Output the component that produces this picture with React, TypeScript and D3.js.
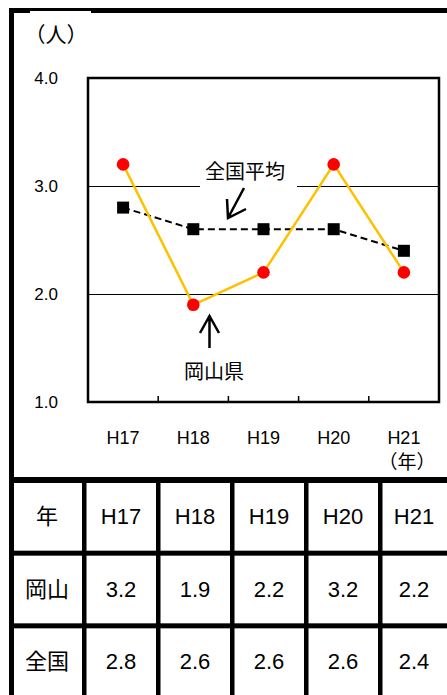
import React from 'react'
import * as d3 from 'd3'

const years = ['H17', 'H18', 'H19', 'H20', 'H21']
const okayama = [3.2, 1.9, 2.2, 3.2, 2.2]
const national = [2.8, 2.6, 2.6, 2.6, 2.4]
const yTicks = [1.0, 2.0, 3.0, 4.0]
const gridValues = [2.0, 3.0]
const rowLabels = ['年', '岡山', '全国']
const unitLabel = '（人）'
const yearUnit = '（年）'
const nationalLabel = '全国平均'
const okayamaLabel = '岡山県'

const W = 447
const H = 695
const FONT = "'Liberation Sans', 'Noto Sans CJK JP', sans-serif"

const App = () => {
    // plot area
    const x = d3.scaleBand<string>().domain(years).range([88, 439])
    const y = d3.scaleLinear().domain([1, 4]).range([402, 78])
    const cx = (d: string) => (x(d) ?? 0) + x.bandwidth() / 2

    const nationalLine = d3.line<number>()
        .x((v, i) => cx(years[i]))
        .y(v => y(v))
    const okayamaLine = d3.line<number>()
        .x((v, i) => cx(years[i]))
        .y(v => y(v))

    // table under the chart
    const cols = d3.scaleBand<string>().domain(['head', ...years]).range([10, 454])
    const rows = d3.scaleBand<string>().domain(rowLabels).range([480, 698])
    const rowValues = [years, okayama.map(v => v.toFixed(1)), national.map(v => v.toFixed(1))]

    return (
        <svg width={W} height={H} style={{ position: 'absolute', left: 0, top: 0 }} fontFamily={FONT}>
            <rect width={W} height={H} fill='white' />

            {/* outer frame */}
            <rect x={9} y={8} width={W - 9} height={5} fill='black' />
            <rect x={9} y={8} width={5} height={H - 8} fill='black' />
            <rect x={30} y={11} width={61} height={3} fill='white' />

            <text x={56} y={34} fontSize={21} textAnchor='middle' dominantBaseline='central'>{unitLabel}</text>

            {/* gridlines */}
            {gridValues.map(v => (
                <line key={v} x1={88} x2={439} y1={y(v) + 0.5} y2={y(v) + 0.5} stroke='black' strokeWidth={1} />
            ))}

            {/* y ticks */}
            {yTicks.map(v => (
                <text key={v} x={58} y={y(v)} fontSize={17} textAnchor='end' dominantBaseline='central'>{v.toFixed(1)}</text>
            ))}

            {/* x tick marks between categories */}
            {years.slice(1).map(d => (
                <line key={d} x1={x(d)} x2={x(d)} y1={402} y2={396} stroke='black' strokeWidth={1.5} />
            ))}

            {/* x labels */}
            {years.map(d => (
                <text key={d} x={cx(d)} y={438} fontSize={18} textAnchor='middle' dominantBaseline='central'>{d}</text>
            ))}
            <text x={cx('H21') + 3} y={462} fontSize={19} textAnchor='middle' dominantBaseline='central'>{yearUnit}</text>

            {/* national label with white box over gridline */}
            <rect x={200} y={160} width={97} height={30} fill='white' />
            <text x={245} y={172} fontSize={20} textAnchor='middle' dominantBaseline='central'>{nationalLabel}</text>
            <path d='M244,188 L228,218 M227,199 L228,218 L246,209' fill='none' stroke='black' strokeWidth={2.5} strokeLinejoin='miter' />

            {/* national series */}
            <path d={nationalLine(national) ?? ''} fill='none' stroke='black' strokeWidth={2} strokeDasharray='7,4' />
            {national.map((v, i) => (
                <rect key={i} x={cx(years[i]) - 6} y={y(v) - 6} width={12} height={12} fill='black' />
            ))}

            {/* okayama series */}
            <path d={okayamaLine(okayama) ?? ''} fill='none' stroke='#FFC000' strokeWidth={2.5} />
            {okayama.map((v, i) => (
                <circle key={i} cx={cx(years[i])} cy={y(v)} r={6.3} fill='#FF0000' />
            ))}

            {/* okayama label */}
            <path d='M209.5,348 L209.5,316 M200,333 L209.5,316 L219,333' fill='none' stroke='black' strokeWidth={2.5} />
            <text x={214} y={372} fontSize={20} textAnchor='middle' dominantBaseline='central'>{okayamaLabel}</text>

            {/* plot frame */}
            <rect x={88} y={78} width={351} height={324} fill='none' stroke='black' strokeWidth={2.5} />

            {/* table */}
            <rect x={9} y={477} width={W - 9} height={6} fill='black' />
            {rowLabels.slice(1).map(r => (
                <rect key={r} x={9} y={(rows(r) ?? 0) - 2} width={W - 9} height={5} fill='black' />
            ))}
            {years.map(d => (
                <rect key={d} x={(cols(d) ?? 0) - 2} y={480} width={4.5} height={H - 480} fill='black' />
            ))}
            {rowLabels.map((r, ri) => (
                <g key={r} fontSize={22}>
                    <text x={(cols('head') ?? 0) + cols.bandwidth() / 2} y={(rows(r) ?? 0) + rows.bandwidth() / 2}
                        textAnchor='middle' dominantBaseline='central'>{r}</text>
                    {rowValues[ri].map((v, ci) => (
                        <text key={ci} x={(cols(years[ci]) ?? 0) + cols.bandwidth() / 2 - (ci === 4 ? 3 : 0)}
                            y={(rows(r) ?? 0) + rows.bandwidth() / 2}
                            textAnchor='middle' dominantBaseline='central'>{v}</text>
                    ))}
                </g>
            ))}
        </svg>
    )
}

export default App
